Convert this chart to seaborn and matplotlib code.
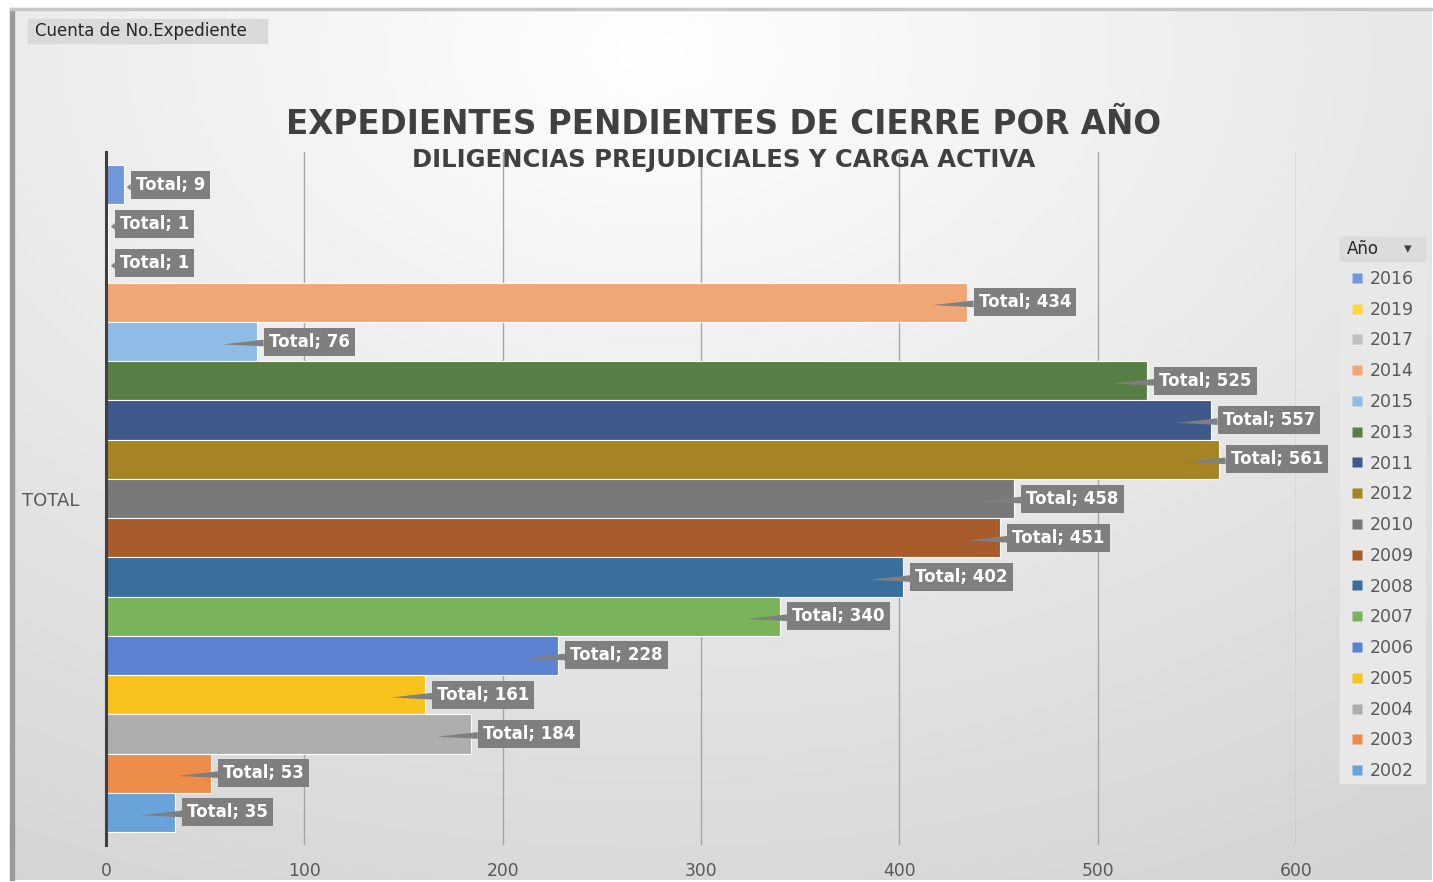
import numpy as np
import pandas as pd
import matplotlib
matplotlib.use("Agg")
import matplotlib.pyplot as plt
from matplotlib.patches import Rectangle
from matplotlib.lines import Line2D
import seaborn as sns

# ---- data ----
years = ["2016", "2019", "2017", "2014", "2015", "2013", "2011", "2012", "2010",
         "2009", "2008", "2007", "2006", "2005", "2004", "2003", "2002"]
counts = [9, 1, 1, 434, 76, 525, 557, 561, 458, 451, 402, 340, 228, 161, 184, 53, 35]
colors = ["#7297DA", "#FFD53F", "#C0C0C0", "#F1A675", "#8FBCE6", "#5A7F46", "#3F5A8A",
          "#A68423", "#787878", "#A85B2B", "#3A6E9C", "#79B45A", "#5B83D1", "#F9C31F",
          "#AEAEAE", "#EE8C4A", "#6AA3DA"]
category = "TOTAL"
xticks = [0, 100, 200, 300, 400, 500, 600]
title = "EXPEDIENTES PENDIENTES DE CIERRE POR AÑO"
subtitle = "DILIGENCIAS PREJUDICIALES Y CARGA ACTIVA"
field_button = "Cuenta de No.Expediente"
legend_title = "Año"

df = pd.DataFrame({"Categoria": [category] * len(years), "Año": years, "Cuenta": counts})
palette = dict(zip(years, colors))

sns.set_theme(style="white")
plt.rcParams["font.family"] = ["DejaVu Sans"]

W, H = 1433, 882
fig = plt.figure(figsize=(W / 100, H / 100), dpi=100)
fig.patch.set_facecolor("white")

# background gradient panel
bg = fig.add_axes([0, 0, 1, 1], zorder=-5)
bg.set_axis_off()
yy, xx = np.mgrid[0:1:300j, 0:1:500j]
r = np.sqrt(((xx - 0.45) / 1.0) ** 2 + ((yy - 0.05) / 1.1) ** 2)
g = np.clip(1.0 - 0.17 * r, 0.83, 1.0)
img = np.dstack([g, g, g])
bg.imshow(img, extent=[10 / W, 1432 / W, 1 - 880 / H, 1 - 8 / H], origin="upper",
          aspect="auto", zorder=0)
bg.add_patch(Rectangle((10 / W, 1 - 880 / H), 4 / W, (872) / H, color="#9A9A9A", zorder=1))
bg.add_patch(Rectangle((10 / W, 1 - 10 / H), 1422 / W, 2 / H, color="#C8C8C8", zorder=1))
bg.set_xlim(0, 1)
bg.set_ylim(0, 1)

# field button
bg.add_patch(Rectangle((28 / W, 1 - 43 / H), 239 / W, 24 / H, color="#DADADA", zorder=2))
bg.text(35 / W, 1 - 31 / H, field_button, fontsize=12, color="#262626", va="center",
        ha="left", zorder=3)

# main axes
left, right = 106 / W, 1296 / W
bottom, top = 1 - 845 / H, 1 - 152 / H
ax = fig.add_axes([left, bottom, right - left, top - bottom], zorder=1)
ax.set_facecolor("none")

sns.barplot(data=df, x="Cuenta", y="Categoria", hue="Año", hue_order=years,
            palette=palette, orient="h", width=0.9625, errorbar=None,
            edgecolor="white", linewidth=0.8, saturation=1, legend=False, ax=ax)

ax.set_xlim(0, 600)
ax.set_ylim(0.5, -0.5)
ax.set_xticks(xticks)
ax.set_xticklabels([str(t) for t in xticks], fontsize=12.3, color="#595959")
ax.set_yticks([0])
ax.set_yticklabels([category], fontsize=13, color="#595959")
ax.tick_params(axis="x", length=0, pad=12)
ax.tick_params(axis="y", length=0, pad=19)
for t in xticks[1:]:
    ax.axvline(t, color="#A6A6A6", lw=1, zorder=0)
for s in ["top", "right", "bottom"]:
    ax.spines[s].set_visible(False)
ax.spines["left"].set_color("#404040")
ax.spines["left"].set_linewidth(2.2)
ax.spines["left"].set_zorder(5)
ax.set_xlabel("")
ax.set_ylabel("")

# data labels with callout pointers
for cont, val in zip(ax.containers, counts):
    bar = cont[0]
    yc = bar.get_y() + bar.get_height() / 2
    tip = val - 17 if val > 20 else val + 1.5
    ax.annotate(f"Total; {val}", xy=(tip, yc + 0.004), xytext=(val + 6.0, yc),
                textcoords="data", ha="left", va="center", fontsize=12,
                fontweight="bold", color="white", zorder=6,
                bbox=dict(boxstyle="square,pad=0.3", fc="#7F7F7F", ec="none"),
                arrowprops=dict(arrowstyle="wedge,tail_width=0.4,shrink_factor=0.5",
                                fc="#7F7F7F", ec="none", shrinkA=0, shrinkB=0))

# titles
fig.text(0.505, 1 - 125 / H, title, ha="center", va="center", fontsize=23.5,
         fontweight="bold", color="#404040")
fig.text(0.505, 1 - 160 / H, subtitle, ha="center", va="center", fontsize=17.5,
         fontweight="bold", color="#404040")

# legend panel + header
bg.add_patch(Rectangle((1340 / W, 1 - 783 / H), 85 / W, 522 / H, color="#E8E8E8", zorder=2))
bg.add_patch(Rectangle((1340 / W, 1 - 261 / H), 85 / W, 24 / H, color="#DCDCDC", zorder=3))
bg.text(1347 / W, 1 - 249 / H, legend_title, fontsize=12, color="#262626",
        va="center", ha="left", zorder=4)
bg.text(1408 / W, 1 - 249 / H, "▾", fontsize=11, color="#404040",
        va="center", ha="center", zorder=4)

handles = [Line2D([], [], marker="s", linestyle="none", markersize=7,
                  markerfacecolor=c, markeredgecolor="none") for c in colors]
leg = fig.legend(handles, years, loc="upper left",
                 bbox_to_anchor=(1345 / W, 1 - 263 / H), frameon=False,
                 fontsize=12.5, labelcolor="#595959", handlelength=0.6,
                 handletextpad=0.45, labelspacing=0.735, borderpad=0.4,
                 borderaxespad=0)

fig.savefig("out.png", dpi=100)
